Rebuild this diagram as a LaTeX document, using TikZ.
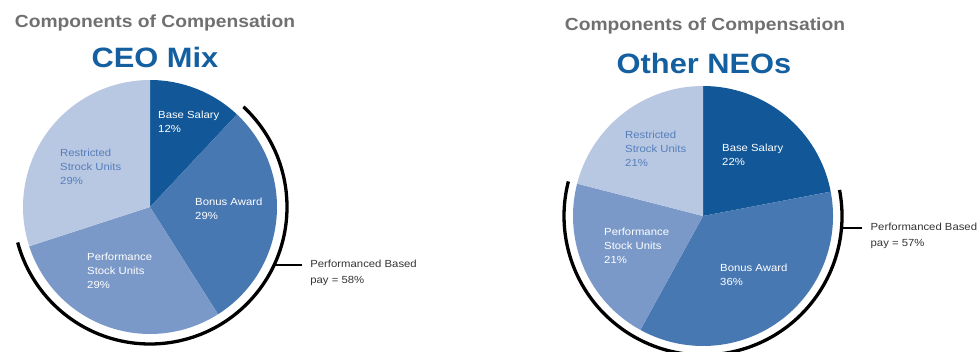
\documentclass[tikz,border=0pt]{standalone}
\usepackage{fontspec}
\setmainfont[FakeStretch=1.1]{Liberation Sans}
\usepackage{tikz}
\usetikzlibrary{positioning,calc}
\definecolor{baseBlue}{RGB}{18,88,152}
\definecolor{bonusBlue}{RGB}{72,120,178}
\definecolor{perfBlue}{RGB}{122,153,200}
\definecolor{rsuBlue}{RGB}{185,200,226}
\definecolor{rsuText}{RGB}{84,126,186}
\definecolor{headBlue}{RGB}{20,95,160}
\definecolor{titleGray}{RGB}{112,112,112}
\tikzset{
		titleStyle/.style = {font=\fontsize{17.5}{20}\selectfont\bfseries, text=titleGray, inner sep=0pt, anchor=north},
		headStyle/.style  = {font=\fontsize{28}{32}\selectfont\bfseries, text=headBlue, inner sep=0pt, anchor=north},
		sliceText/.style  = {font=\fontsize{10.3}{14}\selectfont, text=white, align=left, inner sep=0pt, anchor=north west},
		noteText/.style   = {font=\fontsize{10.3}{15.5}\selectfont, text=black!80, align=left, inner sep=0pt},
		perfArc/.style    = {line width=3.3pt},
		tick/.style       = {line width=1.3pt},
}

\begin{document}
\begin{tikzpicture}[x=1pt,y=1pt]
  \useasboundingbox (0,0) rectangle (979,-352);

  % CEO pie
  \coordinate (ceoC) at (150,-207);
  \foreach \from/\to/\col in {90/46.8/baseBlue, 46.8/-57.6/bonusBlue, -57.6/-162/perfBlue, -162/-270/rsuBlue}
    \fill[\col] (ceoC) -- ++(\from:127) arc[start angle=\from, end angle=\to, radius=127] -- cycle;

  \node [titleStyle] (ceoTitle) at (155,-15) {Components of Compensation};
  \node [headStyle]  (ceoHead)  at (155,-47) {CEO Mix};

  \node [sliceText] (ceoBase)  at (158,-111) {Base Salary\\12\%};
  \node [sliceText] (ceoBonus) at (195,-198) {Bonus Award\\29\%};
  \node [sliceText] (ceoPerf)  at (87,-253)  {Performance\\Stock Units\\29\%};
  \node [sliceText, text=rsuText] (ceoRsu) at (60,-149) {Restricted\\Strock Units\\29\%};

  % performance based bracket
  \draw[perfArc] (ceoC) ++(47:137) arc[start angle=47, end angle=-165, radius=137];
  \coordinate (ceoTick) at ($(ceoC)+(-25:137)$);
  \draw[tick] (ceoTick) -- ++(28,0) coordinate (ceoTickEnd);
  \node [noteText, below right=-5pt and 8pt of ceoTickEnd] (ceoNote) {Performanced Based\\pay = 58\%};

  % Other NEOs pie
  \coordinate (neoC) at (703,-216);
  \foreach \from/\to/\col in {90/10.8/baseBlue, 10.8/-118.8/bonusBlue, -118.8/-194.4/perfBlue, -194.4/-270/rsuBlue}
    \fill[\col] (neoC) -- ++(\from:130) arc[start angle=\from, end angle=\to, radius=130] -- cycle;

  \node [titleStyle] (neoTitle) at (705,-18) {Components of Compensation};
  \node [headStyle]  (neoHead)  at (704,-53) {Other NEOs};

  \node [sliceText] (neoBase)  at (722,-144) {Base Salary\\22\%};
  \node [sliceText] (neoBonus) at (720,-264) {Bonus Award\\36\%};
  \node [sliceText] (neoPerf)  at (604,-228) {Performance\\Stock Units\\21\%};
  \node [sliceText, text=rsuText] (neoRsu) at (625,-131) {Restricted\\Strock Units\\21\%};

  \draw[perfArc] (neoC) ++(10.8:139) arc[start angle=10.8, end angle=-194.4, radius=139];
  \coordinate (neoTick) at ($(neoC)+(-5:139)$);
  \draw[tick] (neoTick) -- ++(21,0) coordinate (neoTickEnd);
  \node [noteText, below right=-5pt and 8pt of neoTickEnd] (neoNote) {Performanced Based\\pay = 57\%};

\end{tikzpicture}
\end{document}
